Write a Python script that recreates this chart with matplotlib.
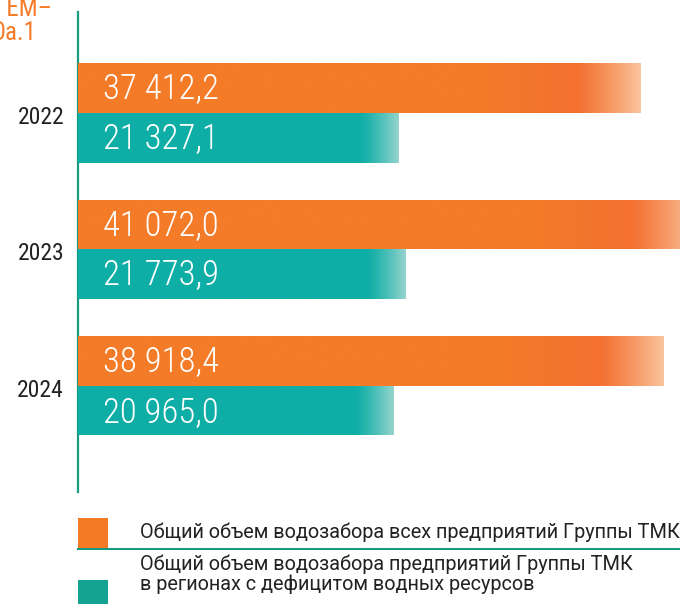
import numpy as np
import matplotlib
matplotlib.use("Agg")
import matplotlib.pyplot as plt
from matplotlib import font_manager
from matplotlib.colors import to_rgb
from matplotlib.patches import Rectangle
from matplotlib.lines import Line2D

# --- data -------------------------------------------------------------
years = ["2022", "2023", "2024"]
total_intake = [37412.2, 41072.0, 38918.4]
deficit_intake = [21327.1, 21773.9, 20965.0]
total_labels = ["37 412,2", "41 072,0", "38 918,4"]
deficit_labels = ["21 327,1", "21 773,9", "20 965,0"]
legend_total = "Общий объем водозабора всех предприятий Группы ТМК"
legend_deficit = "Общий объем водозабора предприятий Группы ТМК\nв регионах с дефицитом водных ресурсов"
corner_lines = ["в ЕМ–", "Оа.1"]

# --- fonts ------------------------------------------------------------
available = {f.name for f in font_manager.fontManager.ttflist}
narrow = {"family": "DejaVu Sans", "stretch": "condensed"}
for name in ["Roboto Condensed", "Liberation Sans Narrow", "Open Sans Condensed"]:
    if name in available:
        narrow = {"family": name}
        break
regular = {"family": "Roboto" if "Roboto" in available else "DejaVu Sans"}

ORANGE = "#f47b28"
ORANGE_DEEP = "#f37030"
ORANGE_LIGHT = "#fbc49c"
TEAL = "#0eaea6"
TEAL_LIGHT = "#94d4cd"
LEG_TEAL = "#14a390"
AXIS = "#179a7d"

W, H = 680, 604
fig = plt.figure(figsize=(W / 100, H / 100), dpi=100)

# axes: left spine at x=78 px, spanning y 12..492 px; extends beyond right edge
left_px, right_px = 78, 696
top_px, bot_px = 12, 492
ax = fig.add_axes([left_px / W, 1 - bot_px / H, (right_px - left_px) / W,
                   (bot_px - top_px) / H])
xmax = max(total_intake)
ax.set_xlim(0, xmax)
ax.set_ylim(2.777, -0.74)
ax.axis("off")
ax.plot([0, 0], [2.777, -0.74], color=AXIS, lw=1.6, clip_on=False, zorder=1)

bar_h = 0.363


def gradient_bar(y, value, base, deep, light, fade_px, is_top):
    bottom = y - bar_h if is_top else y
    rect = Rectangle((0, bottom), value, bar_h, facecolor=base,
                     edgecolor="none", zorder=2)
    ax.add_patch(rect)
    # horizontal colour ramp toward the bar end
    n = 400
    px_len = value / xmax * (right_px - left_px)
    t = np.linspace(0, 1, n) * px_len
    start_fade = px_len - fade_px
    ramp = 100
    cb, cd, cl = np.array(to_rgb(base)), np.array(to_rgb(deep)), np.array(to_rgb(light))
    cols = np.empty((n, 3))
    for i, p in enumerate(t):
        if p < start_fade - ramp:
            cols[i] = cb
        elif p < start_fade:
            f = (p - (start_fade - ramp)) / ramp
            cols[i] = cb * (1 - f) + cd * f
        else:
            f = min(1.0, (p - start_fade) / fade_px)
            f = f ** 1.2
            cols[i] = cd * (1 - f) + cl * f
    img = cols[np.newaxis, :, :]
    im = ax.imshow(img, extent=(0, value, bottom, bottom + bar_h),
                   aspect="auto", interpolation="bilinear", zorder=3,
                   origin="lower")
    im.set_clip_path(rect)


for i, (tv, dv) in enumerate(zip(total_intake, deficit_intake)):
    gradient_bar(i, tv, ORANGE, ORANGE_DEEP, ORANGE_LIGHT, 65, True)
    gradient_bar(i, dv, TEAL, TEAL, TEAL_LIGHT, 38, False)
    ax.annotate(total_labels[i], xy=(0, i - bar_h / 2), xytext=(18, -1),
                textcoords="offset points", color="white", fontsize=25,
                fontweight="light", va="center", ha="left", zorder=5, **narrow)
    ax.annotate(deficit_labels[i], xy=(0, i + bar_h / 2), xytext=(18, -1),
                textcoords="offset points", color="white", fontsize=25,
                fontweight="light", va="center", ha="left", zorder=5, **narrow)
    ax.annotate(years[i], xy=(0, i), xytext=(-10, -3),
                textcoords="offset points", color="#222222", fontsize=17,
                va="center", ha="right", zorder=5, annotation_clip=False,
                **narrow)

# corner text, partially cut by the left edge
fig.text(52 / W, 1 - 9 / H, corner_lines[0], color=ORANGE, fontsize=18,
         ha="right", va="center", **narrow)
fig.text(36 / W, 1 - 33 / H, corner_lines[1], color=ORANGE, fontsize=18,
         ha="right", va="center", **narrow)

# legend
fig.patches.append(Rectangle((78 / W, 1 - 548 / H), 30 / W, 30 / H,
                             transform=fig.transFigure, facecolor="#f47a25",
                             edgecolor="none"))
fig.patches.append(Rectangle((78 / W, 1 - 606 / H), 30 / W, 26 / H,
                             transform=fig.transFigure, facecolor=LEG_TEAL,
                             edgecolor="none"))
fig.add_artist(Line2D([78 / W, 1.0], [1 - 548.5 / H, 1 - 548.5 / H],
                      transform=fig.transFigure, color=AXIS, lw=1.5))
fig.text(140 / W, 1 - 538 / H, legend_total, color="#222222", fontsize=14.3,
         ha="left", va="baseline", **regular)
fig.text(140 / W, 1 - 590 / H, legend_deficit, color="#222222", fontsize=14.3,
         ha="left", va="baseline", linespacing=1.05, **regular)

fig.savefig("out.png", dpi=100)
